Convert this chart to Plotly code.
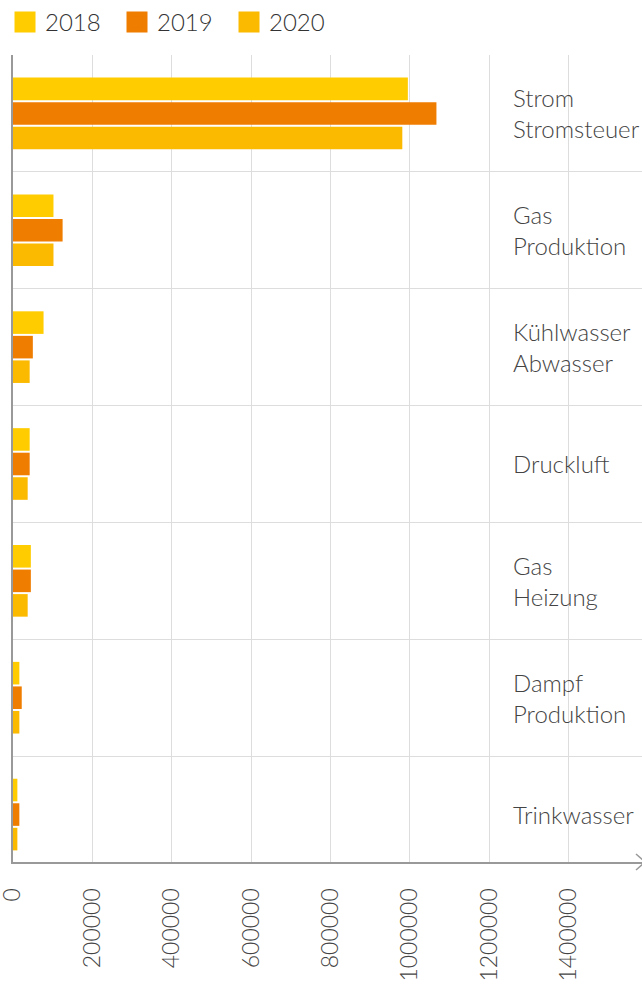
import plotly.graph_objects as go

categories = ["Strom<br>Stromsteuer", "Gas<br>Produktion", "Kühlwasser<br>Abwasser",
              "Druckluft", "Gas<br>Heizung", "Dampf<br>Produktion", "Trinkwasser"]
years = ["2018", "2019", "2020"]
values_2018 = [995000, 102000, 77000, 42000, 45000, 16000, 11000]
values_2019 = [1067000, 125000, 50000, 42000, 45000, 22000, 16000]
values_2020 = [981000, 102000, 42000, 37000, 37000, 16000, 11000]
colors = ["#FFCC00", "#EF7D00", "#FBBA00"]
x_ticks = [0, 200000, 400000, 600000, 800000, 1000000, 1200000, 1400000]

cat_ids = [str(i) for i in range(len(categories))]
series = [values_2018, values_2019, values_2020]

FONT = "Lato, 'Open Sans', sans-serif"
fig = go.Figure()
for name, vals, col in zip(years, series, colors):
    fig.add_trace(go.Bar(
        y=cat_ids, x=vals, name=name, orientation="h", showlegend=False,
        marker=dict(color=col, line=dict(width=0)),
    ))
# legend entries (larger square swatches)
for name, col in zip(years, colors):
    fig.add_trace(go.Scatter(
        x=[None], y=[None], name=name, mode="markers", showlegend=True,
        marker=dict(symbol="square", size=16, color=col, line=dict(color=col, width=5)),
    ))

for cid, label in zip(cat_ids, categories):
    fig.add_annotation(
        x=0.791, xref="paper", y=cid, yref="y", text=label,
        showarrow=False, xanchor="left", yanchor="middle", align="left",
        font=dict(family=FONT, size=24, color="#444444", weight=300),
    )

# arrow head at end of x axis
fig.add_shape(type="path", xref="paper", yref="paper", xsizemode="pixel", ysizemode="pixel",
              xanchor=1, yanchor=0, path="M-6,8 L3,0 L-6,-8",
              line=dict(color="#999999", width=1.5))

fig.update_layout(
    width=642, height=985,
    margin=dict(l=13, r=0, t=55, b=123, autoexpand=False),
    paper_bgcolor="white", plot_bgcolor="white",
    barmode="group", bargap=0.37, bargroupgap=0.08,
    showlegend=True,
    legend=dict(orientation="h", x=0.0078, xanchor="left", xref="container",
                y=1.0, yanchor="top", yref="container",
                font=dict(family=FONT, size=24, color="#333333", weight=300),
                entrywidth=67, entrywidthmode="pixels",
                itemwidth=30, tracegroupgap=0, bgcolor="rgba(0,0,0,0)"),
    font=dict(family=FONT, color="#444444"),
    xaxis=dict(range=[0, 1585000], tickvals=x_ticks, ticktext=[str(v) for v in x_ticks],
               tickangle=-90, showgrid=True, gridcolor="#dddddd", gridwidth=1,
               zeroline=False, showline=True, linecolor="#999999", linewidth=2,
               ticks="", ticklabelstandoff=15, ticklabeloverflow="allow", automargin=False,
               tickfont=dict(family=FONT, size=23, color="#444444", weight=300)),
    yaxis=dict(type="category", categoryorder="array", categoryarray=cat_ids,
               range=[6.406, -0.5], tickson="boundaries", showgrid=True,
               gridcolor="#dddddd", gridwidth=1, showticklabels=False, ticks="",
               showline=True, linecolor="#999999", linewidth=2, zeroline=False,
               automargin=False),
)

fig.write_html("out.html", config={"displayModeBar": False},
               post_script="document.body.style.margin='0';document.body.style.overflow='hidden';")
